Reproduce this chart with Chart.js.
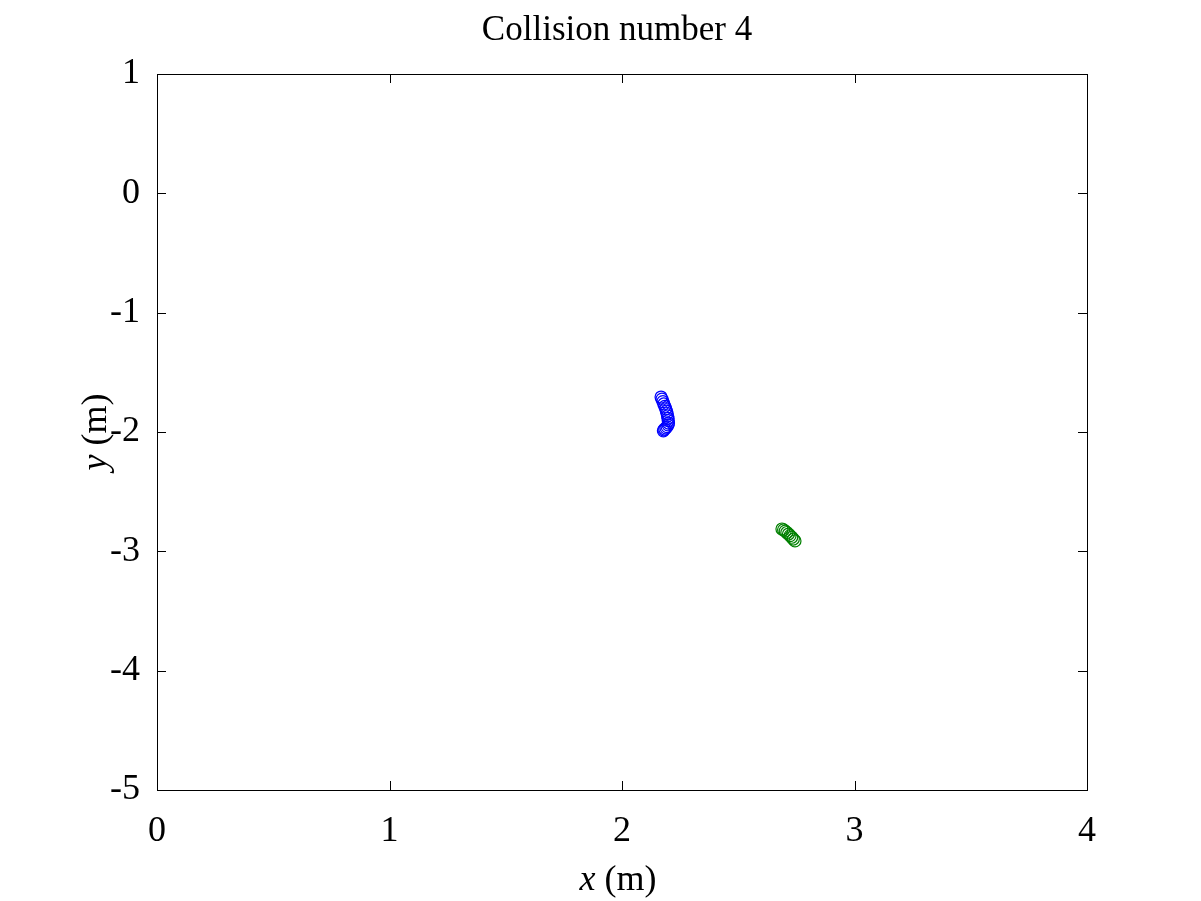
<!DOCTYPE html><html><head><style>html,body{margin:0;background:#fff}#w{width:1201px;height:901px}</style>
<script src="https://cdn.jsdelivr.net/npm/chart.js@4"></script></head><body><div id="w"><canvas id="c"></canvas></div>
<script>
const titleText = "Collision number 4";
const xTicks = [0,1,2,3,4];
const yTicks = [1,0,-1,-2,-3,-4,-5];
const blueX = [2.168,2.172,2.176,2.180,2.184,2.188,2.191,2.194,2.196,2.198,2.199,2.200,2.198,2.194,2.189,2.184,2.180,2.178];
const blueY = [-1.707,-1.725,-1.745,-1.765,-1.785,-1.805,-1.825,-1.845,-1.865,-1.885,-1.905,-1.925,-1.940,-1.955,-1.965,-1.975,-1.982,-1.990];
const greenX = [2.688,2.695,2.702,2.709,2.716,2.723,2.730,2.737,2.744];
const greenY = [-2.813,-2.820,-2.830,-2.842,-2.855,-2.868,-2.882,-2.897,-2.913];
const pts=(xs,ys)=>xs.map((x,i)=>({x,y:ys[i]}));
const font="'Liberation Serif','Times New Roman',serif";
const deco={id:'deco',afterDraw(ch){const c=ch.ctx,a=ch.chartArea,xs=ch.scales.x,ys=ch.scales.y;c.save();
c.strokeStyle='#000';c.lineWidth=1;c.strokeRect(a.left+0.5,a.top+0.5,a.right-a.left,a.bottom-a.top);
c.beginPath();xTicks.forEach(v=>{const p=Math.round(xs.getPixelForValue(v))+0.5;c.moveTo(p,a.bottom);c.lineTo(p,a.bottom-9);c.moveTo(p,a.top);c.lineTo(p,a.top+9);});
yTicks.forEach(v=>{const p=Math.round(ys.getPixelForValue(v))+0.5;c.moveTo(a.left,p);c.lineTo(a.left+9,p);c.moveTo(a.right,p);c.lineTo(a.right-9,p);});c.stroke();
c.fillStyle='#000';c.textAlign='center';c.textBaseline='middle';c.font='35px '+font;c.fillText(titleText,617,31);
c.font='italic 36px '+font;let w1=c.measureText('x').width;c.font='36px '+font;let w2=c.measureText(' (m)').width;let sx=618-(w1+w2)/2;
c.textAlign='left';c.font='italic 36px '+font;c.fillText('x',sx,881);c.font='36px '+font;c.fillText(' (m)',sx+w1,881);
c.translate(97,432);c.rotate(-Math.PI/2);c.font='italic 36px '+font;w1=c.measureText('y').width;c.font='36px '+font;w2=c.measureText(' (m)').width;sx=-(w1+w2)/2;
c.font='italic 36px '+font;c.fillText('y',sx,0);c.font='36px '+font;c.fillText(' (m)',sx+w1,0);c.restore();}};
new Chart(document.getElementById('c'),{type:'scatter',data:{datasets:[
{data:pts(blueX,blueY),borderColor:'#0000ff',backgroundColor:'rgba(0,0,0,0)',pointRadius:6,borderWidth:1.2},
{data:pts(greenX,greenY),borderColor:'#008000',backgroundColor:'rgba(0,0,0,0)',pointRadius:6,borderWidth:1.2}]},
options:{responsive:true,maintainAspectRatio:false,animation:false,events:[],
layout:{padding:{left:0,right:114,top:74,bottom:0}},
plugins:{legend:{display:false},tooltip:{enabled:false}},
scales:{x:{type:'linear',min:0,max:4,afterFit(s){s.height=111;},afterBuildTicks(s){s.ticks=xTicks.map(v=>({value:v}));},
grid:{display:false},border:{display:false},ticks:{color:'#000',font:{family:font,size:36},padding:12,maxRotation:0}},
y:{type:'linear',min:-5,max:1,afterFit(s){s.width=157;},afterBuildTicks(s){s.ticks=yTicks.map(v=>({value:v}));},
grid:{display:false},border:{display:false},ticks:{color:'#000',font:{family:font,size:36},padding:9}}}},plugins:[deco]});
</script></body></html>
